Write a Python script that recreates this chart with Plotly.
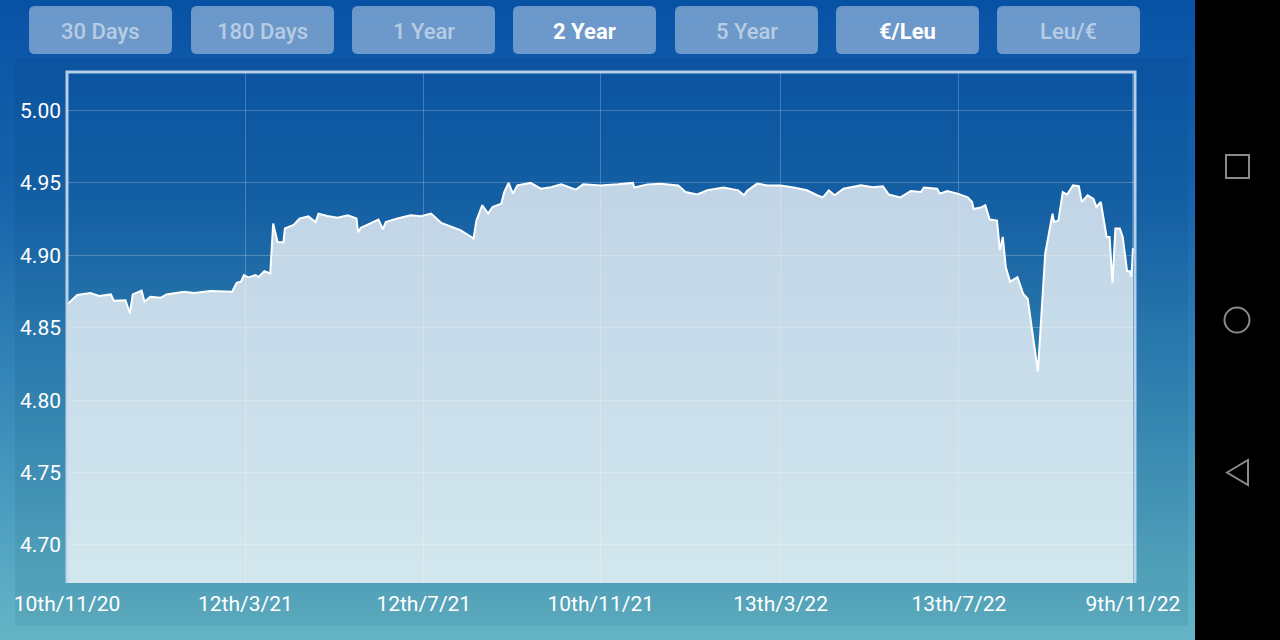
import plotly.graph_objects as go
import pandas as pd

# ---------------- data ----------------
start_date = "2020-11-10"
day_offset = [0, 1, 7, 16, 22, 30, 32, 40, 43, 45, 51, 53, 57, 64, 68, 80, 87, 98,
              113, 116, 119, 121, 124, 129, 131, 135, 139, 141, 144, 148, 149, 155,
              159, 165, 170, 172, 178, 185, 192, 198, 199, 201, 208, 213, 216, 218,
              226, 235, 242, 249, 256, 262, 269, 276, 278, 280, 284, 288, 291, 297,
              299, 302, 305, 308, 317, 324, 331, 338, 344, 348, 353, 365, 377, 387,
              388, 397, 406, 418, 423, 431, 438, 449, 459, 463, 465, 472, 479, 488,
              497, 506, 513, 517, 521, 525, 531, 543, 551, 558, 562, 570, 577, 584,
              586, 595, 597, 602, 609, 616, 619, 620, 625, 628, 631, 636, 638, 640,
              642, 645, 650, 654, 657, 662, 664, 669, 674, 675, 678, 681, 684, 688,
              692, 694, 698, 702, 704, 707, 711, 713, 715, 717, 720, 722, 725, 727,
              728, 729]
rate = [4.866, 4.867, 4.8726, 4.874, 4.872, 4.873, 4.8687, 4.869, 4.860, 4.873,
        4.8756, 4.868, 4.8714, 4.8707, 4.873, 4.8749, 4.874, 4.8753,
        4.8749, 4.881, 4.8818, 4.8864, 4.8848, 4.8864, 4.885, 4.889, 4.8875,
        4.922, 4.909, 4.909, 4.9185, 4.921,
        4.9254, 4.927, 4.923, 4.9288, 4.9272, 4.926, 4.9277, 4.9254, 4.916,
        4.919, 4.9224, 4.9247, 4.918, 4.923,
        4.9254, 4.9277, 4.927, 4.9288, 4.9224, 4.920, 4.9174, 4.913, 4.9116,
        4.924, 4.9346, 4.9288, 4.9334, 4.9357,
        4.9437, 4.950, 4.9426, 4.9483, 4.950, 4.946, 4.947, 4.949, 4.947,
        4.9454, 4.949, 4.9483, 4.949, 4.950,
        4.9468, 4.949, 4.9495, 4.9483, 4.9437, 4.942, 4.9449, 4.9468, 4.9449,
        4.9415, 4.9444, 4.9495, 4.9483, 4.9483,
        4.9468, 4.9449, 4.9415, 4.940, 4.9449, 4.9415, 4.946, 4.9483, 4.947,
        4.9477, 4.942, 4.940, 4.9444, 4.9437,
        4.9468, 4.946, 4.9426, 4.9444, 4.9426, 4.940, 4.9369, 4.932, 4.933,
        4.9346, 4.9247, 4.924, 4.9036, 4.9127,
        4.892, 4.8818, 4.8848, 4.8733, 4.870, 4.8335, 4.8198, 4.9013, 4.9288,
        4.923, 4.924, 4.9437, 4.942, 4.9483,
        4.9477, 4.9369, 4.9415, 4.939, 4.9334, 4.9369, 4.9127, 4.9127, 4.8807,
        4.9185, 4.9185, 4.9127, 4.889, 4.889,
        4.8852, 4.905]

tick_dates = ["2020-11-10", "2021-03-12", "2021-07-12", "2021-11-10",
              "2022-03-13", "2022-07-13", "2022-11-09"]
tick_labels = ["10th/11/20", "12th/3/21", "12th/7/21", "10th/11/21",
               "13th/3/22", "13th/7/22", "9th/11/22"]
y_ticks = [4.70, 4.75, 4.80, 4.85, 4.90, 4.95, 5.00]

buttons = ["30 Days", "180 Days", "1 Year", "2 Year", "5 Year", "€/Leu", "Leu/€"]
active_buttons = ["2 Year", "€/Leu"]

# ---------------- helpers ----------------
W, H = 1280, 640


def px(x):
    return x / W


def py(y):
    return 1 - y / H


dates = pd.to_datetime(start_date) + pd.to_timedelta(day_offset, unit="D")

fig = go.Figure()
fig.add_trace(go.Scatter(
    x=dates, y=rate, mode="lines",
    line=dict(color="white", width=2),
    fill="tozeroy", fillcolor="rgba(255,255,255,0.74)",
    hoverinfo="skip", showlegend=False,
))

shapes = []

# background vertical gradient (bands)
stops = [(0, (8, 82, 166)), (200, (22, 100, 172)), (400, (55, 138, 185)),
         (640, (100, 182, 198))]


def col_at(y):
    for (y0, c0), (y1, c1) in zip(stops[:-1], stops[1:]):
        if y0 <= y <= y1:
            t = (y - y0) / (y1 - y0)
            return tuple(round(a + (b - a) * t) for a, b in zip(c0, c1))
    return stops[-1][1]


band = 8
for yb in range(0, H, band):
    c = col_at(yb + band / 2)
    shapes.append(dict(type="rect", xref="paper", yref="paper",
                       x0=0, x1=1, y0=py(yb + band + 0.5), y1=py(yb),
                       fillcolor=f"rgb{c}", line=dict(width=0), layer="below"))

# darker panel behind the chart
shapes.append(dict(type="rect", xref="paper", yref="paper",
                   x0=px(15), x1=px(1188), y0=py(623), y1=py(58),
                   fillcolor="rgba(0,25,60,0.07)", line=dict(width=0), layer="below"))
shapes.append(dict(type="rect", xref="paper", yref="paper",
                   x0=px(15), x1=px(1188), y0=py(626), y1=py(623),
                   fillcolor="rgba(0,25,60,0.06)", line=dict(width=0), layer="below"))

# plot frame (top, left, right)
L, R, T, B = 67, 1135, 72, 583
frame = (f"M {px(L)},{py(B)} L {px(L)},{py(T)} L {px(R)},{py(T)} L {px(R)},{py(B)}")
shapes.append(dict(type="path", xref="paper", yref="paper", path=frame,
                   line=dict(color="rgba(200,220,242,0.9)", width=3), layer="above"))

# buttons (rounded rectangles)
btn_x0 = [29, 191, 352, 513, 675, 836, 997]
bw, by0, by1, r = 143, 6, 54, 6


def rrect(x0, y0, x1, y1, r):
    rx, ry = r / W, r / H
    X0, X1, Y0, Y1 = px(x0), px(x1), py(y1), py(y0)  # Y0 bottom, Y1 top
    return (f"M {X0 + rx},{Y1} L {X1 - rx},{Y1} Q {X1},{Y1} {X1},{Y1 - ry} "
            f"L {X1},{Y0 + ry} Q {X1},{Y0} {X1 - rx},{Y0} L {X0 + rx},{Y0} "
            f"Q {X0},{Y0} {X0},{Y0 + ry} L {X0},{Y1 - ry} Q {X0},{Y1} {X0 + rx},{Y1} Z")


annotations = []
for label, x0 in zip(buttons, btn_x0):
    shapes.append(dict(type="path", xref="paper", yref="paper",
                       path=rrect(x0, by0, x0 + bw, by1, r),
                       fillcolor="rgba(255,255,255,0.40)", line=dict(width=0),
                       layer="above"))
    active = label in active_buttons
    annotations.append(dict(
        x=px(x0 + bw / 2), y=py((by0 + by1) / 2 + 1), xref="paper", yref="paper",
        text=label, showarrow=False,
        xanchor="center", yanchor="middle",
        font=dict(family="Roboto", size=22, weight=700 if active else 500,
                  color="white" if active else "rgba(255,255,255,0.52)"),
    ))

# android navigation bar
shapes.append(dict(type="rect", xref="paper", yref="paper",
                   x0=px(1195), x1=1, y0=0, y1=1,
                   fillcolor="black", line=dict(width=0), layer="above"))
icon = dict(color="#8a8a8a", width=2)
shapes.append(dict(type="rect", xref="paper", yref="paper",
                   x0=px(1226), x1=px(1249), y0=py(178), y1=py(155),
                   line=icon, fillcolor="rgba(0,0,0,0)", layer="above"))
shapes.append(dict(type="circle", xref="paper", yref="paper",
                   x0=px(1224.5), x1=px(1249.5), y0=py(332.5), y1=py(307.5),
                   line=icon, fillcolor="rgba(0,0,0,0)", layer="above"))
shapes.append(dict(type="path", xref="paper", yref="paper",
                   path=f"M {px(1227)},{py(472.5)} L {px(1248)},{py(460)} "
                        f"L {px(1248)},{py(485)} Z",
                   line=icon, fillcolor="rgba(0,0,0,0)", layer="above"))

x_end = pd.to_datetime(start_date) + pd.to_timedelta(730.4, unit="D")
y_lo = 4.70 - (B - 545) / 1448
y_hi = 5.00 + (110.5 - T) / 1448

fig.update_layout(
    width=W, height=H, autosize=False,
    margin=dict(l=0, r=0, t=0, b=0, pad=0, autoexpand=False),
    paper_bgcolor="rgb(8,82,166)",
    plot_bgcolor="rgba(0,0,0,0)",
    showlegend=False,
    shapes=shapes,
    annotations=annotations,
    xaxis=dict(
        domain=[px(L), px(R)], type="date", automargin=False,
        range=[pd.to_datetime(start_date), x_end],
        tickmode="array", tickvals=pd.to_datetime(tick_dates), ticktext=tick_labels,
        showgrid=True, gridcolor="rgba(255,255,255,0.22)", gridwidth=1,
        zeroline=False, showline=False, ticks="",
        tickfont=dict(family="Roboto", size=21, color="white"),
        ticklabelstandoff=6,
    ),
    yaxis=dict(
        domain=[py(B), py(T)], automargin=False,
        range=[y_lo, y_hi],
        tickmode="array", tickvals=y_ticks,
        ticktext=[f"{v:.2f}" for v in y_ticks],
        showgrid=True, gridcolor="rgba(255,255,255,0.22)", gridwidth=1,
        zeroline=False, showline=False, ticks="",
        tickfont=dict(family="Roboto", size=21, color="white"),
        ticklabelstandoff=5,
    ),
)

fig.write_html(
    "out.html",
    config={"displayModeBar": False, "staticPlot": True},
    post_script="document.body.style.margin='0';document.body.style.overflow='hidden';",
)
